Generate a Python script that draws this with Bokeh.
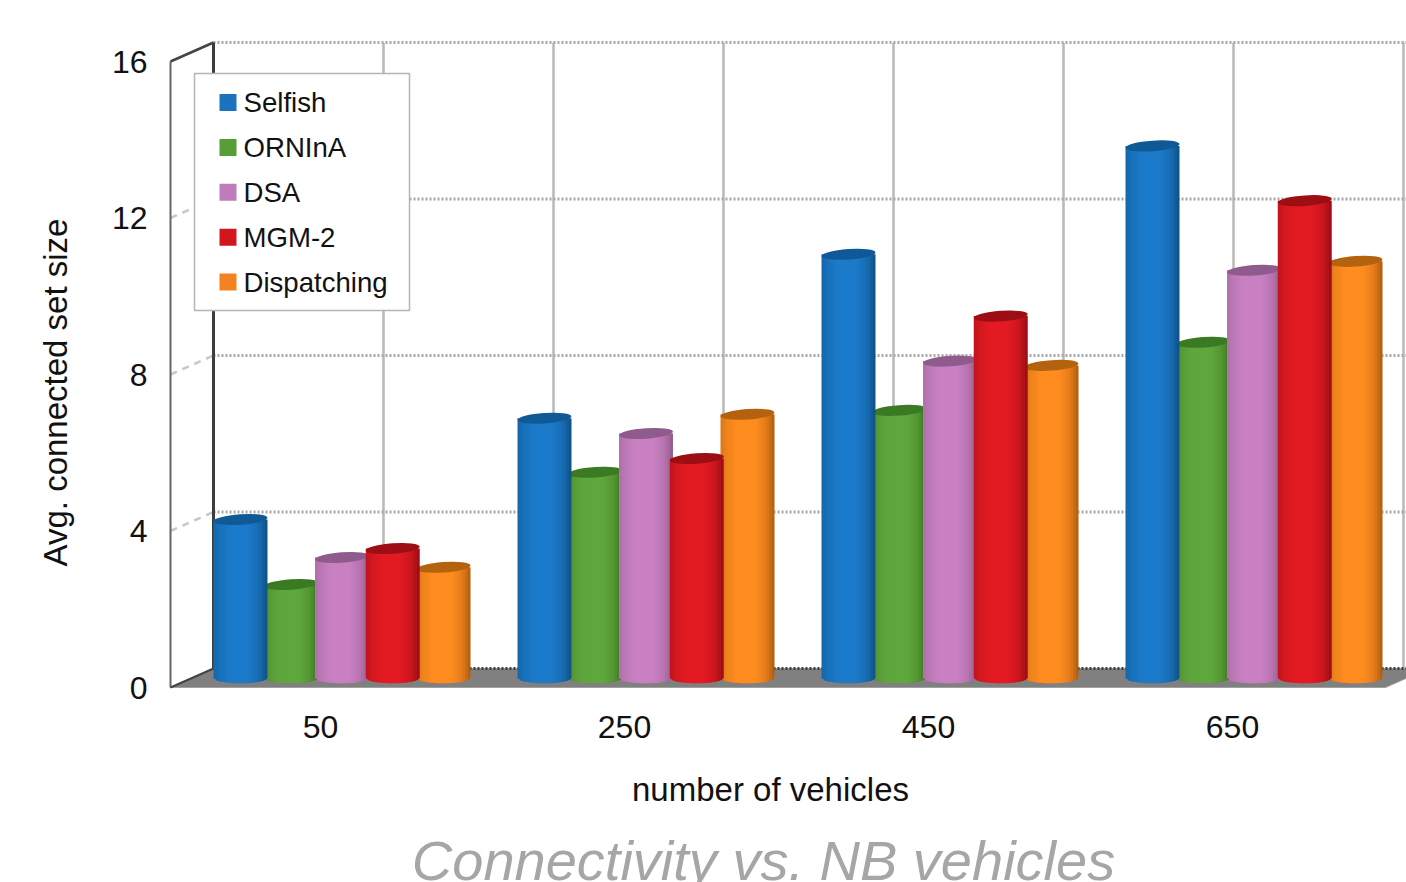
import math

import numpy as np
from bokeh.core.properties import value
from bokeh.embed import file_html
from bokeh.models import FixedTicker, Range1d
from bokeh.plotting import figure
from bokeh.resources import INLINE

# Average connected set size for each fleet size and dispatching scheme
vehicles = ["50", "250", "450", "650"]
selfish = [4.05, 6.64, 10.83, 13.60]
orninai = [2.39, 5.26, 6.84, 8.58]
dsa = [3.08, 6.25, 8.10, 10.42]
mgm2 = [3.31, 5.61, 9.25, 12.20]
dispatching = [2.83, 6.74, 7.99, 10.65]

series_names = ["Selfish", "ORNInA", "DSA", "MGM-2", "Dispatching"]
series_values = [selfish, orninai, dsa, mgm2, dispatching]
y_ticks = [0, 4, 8, 12, 16]

# Colours: (face, shaded edge, cap)
palette = [
    ("#1b7ac9", "#0f4f85", "#0f5a96"),
    ("#5fa63c", "#3a7322", "#3a7a22"),
    ("#c880c2", "#8f5a8b", "#8f5b8c"),
    ("#e21a22", "#970e13", "#9c0e14"),
    ("#ff8c1f", "#ad5c10", "#b5620f"),
]
legend_colors = ["#1c72bd", "#579d38", "#c07bbb", "#d2161e", "#f58220"]
TEXT = "#111111"
FONT = "Liberation Sans"

# Pixel scale of the drawing; the frame fills the whole page
WIDTH, HEIGHT = 1406, 882
BOX_LEFT, BOX_BOTTOM = 170, 687
PX_PER_GROUP = 304.0
PX_PER_UNIT = 39.125
GROUP0_PX = 320.0

DEPTH_X = 43 / PX_PER_GROUP
DEPTH_Y = 19 / PX_PER_UNIT
BAR_W = 54 / PX_PER_GROUP
BAR_PITCH = 50.75 / PX_PER_GROUP
CAP_H = 10.5 / PX_PER_UNIT
WALL_STEP = 170 / PX_PER_GROUP


def px_x(px):
    return (px - GROUP0_PX) / PX_PER_GROUP


def px_y(px):
    return (BOX_BOTTOM - px) / PX_PER_UNIT


X_FRONT = px_x(BOX_LEFT)
X_BACK = X_FRONT + DEPTH_X
X_FLOOR_END = X_FRONT + 1215 / PX_PER_GROUP

p = figure(
    width=WIDTH, height=HEIGHT, output_backend="svg", toolbar_location=None,
    x_range=Range1d(px_x(0), px_x(WIDTH)),
    y_range=Range1d(px_y(HEIGHT), px_y(0)),
    min_border=0, outline_line_color=None, background_fill_color="white",
)
p.xgrid.visible = False
p.ygrid.visible = False

# Axes carry only their tick labels and sit on the front edges of the box
p.yaxis.ticker = FixedTicker(ticks=y_ticks)
p.yaxis.fixed_location = X_FRONT
p.xaxis.ticker = FixedTicker(ticks=list(range(len(vehicles))))
p.xaxis.fixed_location = 0
p.xaxis.major_label_overrides = {i: v for i, v in enumerate(vehicles)}
for ax in (p.xaxis[0], p.yaxis[0]):
    ax.axis_line_color = None
    ax.major_tick_line_color = None
    ax.minor_tick_line_color = None
    ax.major_label_text_font = FONT
    ax.major_label_text_font_size = "32px"
    ax.major_label_text_color = TEXT
p.yaxis.major_label_standoff = 17
p.xaxis.major_label_standoff = 22

# Floor
x_right = X_FLOOR_END + DEPTH_X
p.patch([X_FRONT, X_BACK, x_right, X_FLOOR_END], [0, DEPTH_Y, DEPTH_Y, 0],
        fill_color="#808080", line_color="#a0a0a0", line_width=1)

# Back wall grid
wall_xs = [X_BACK + k * WALL_STEP for k in range(1, 8)]
top = 16 + DEPTH_Y
p.segment(wall_xs, [DEPTH_Y] * 7, wall_xs, [top] * 7, line_color="#b8b8b8", line_width=2.5)
grid_vals = [v + DEPTH_Y for v in y_ticks[1:]]
p.segment([X_BACK] * 4, grid_vals, [x_right] * 4, grid_vals,
          line_color="#a8a8a8", line_width=3, line_dash="2 2")
p.segment([X_BACK], [DEPTH_Y], [x_right], [DEPTH_Y], line_color="#3c3c3c", line_width=3, line_dash="2 2")

# Side wall
inner = y_ticks[1:-1]
p.segment([X_FRONT] * 3, inner, [X_BACK] * 3, [v + DEPTH_Y for v in inner],
          line_color="#c8c8c8", line_width=2.5, line_dash="7 6")
p.line([X_FRONT, X_FRONT], [0, 16], line_color="#666666", line_width=2)
p.line([X_BACK, X_BACK], [DEPTH_Y, top], line_color="#3c3c3c", line_width=3)
p.line([X_FRONT, X_BACK], [16, top], line_color="#444444", line_width=2.5)
p.line([X_FRONT, X_BACK], [0, DEPTH_Y], line_color="#444444", line_width=2)


def hex_rgb(c):
    return np.array([int(c[i:i + 2], 16) for i in (1, 3, 5)], dtype=float)


def mix(face, edge, t):
    rgb = hex_rgb(face) * (1 - t) + hex_rgb(edge) * t
    return "#%02x%02x%02x" % tuple(int(round(c)) for c in rgb)


def cylinder(center, val, colors):
    """Draw one upright cylinder as thin shaded strips closed by a tilted cap."""
    face, edge, cap = colors
    base = DEPTH_Y / 2
    n = 20
    edges = np.linspace(0, 1, n + 1)
    xs, ys, fills = [], [], []

    def low(u):
        return base - CAP_H / 2 * np.sqrt(max(0.0, 1 - (2 * u - 1) ** 2))

    for a, b in zip(edges[:-1], edges[1:]):
        b2 = min(b + 0.02, 1)
        left = center + (a - 0.5) * BAR_W
        right = center + (b2 - 0.5) * BAR_W
        xs.append([left, right, right, left])
        ys.append([low(a), low(b2), val + base, val + base])
        shade = np.interp((a + b) / 2, [0, 0.12, 0.3, 0.65, 0.85, 1], [0.45, 0.2, 0, 0, 0.35, 1])
        fills.append(mix(face, edge, shade))
    p.patches(xs, ys, fill_color=fills, line_color=None)
    p.ellipse([center], [val + base], width=BAR_W, height=CAP_H, angle=0.07,
              fill_color=cap, line_color=None)


# Neighbouring cylinders overlap, so paint them in a fixed order
paint_order = [4, 1, 2, 0, 3]
for g in range(len(vehicles)):
    group_center = g + DEPTH_X / 2
    for s in paint_order:
        cylinder(group_center + (s - 2) * BAR_PITCH, series_values[s][g], palette[s])

# Legend panel, laid out in pixels
p.quad(left=[px_x(194)], right=[px_x(409)], top=[px_y(73)], bottom=[px_y(310)],
       fill_color="white", line_color="#b5b5b5", line_width=1.5)
for i, (name, color) in enumerate(zip(series_names, legend_colors)):
    row = 102 + 44.9 * i
    p.quad(left=[px_x(219)], right=[px_x(236)], top=[px_y(row - 8.5)], bottom=[px_y(row + 8.5)],
           fill_color=color, line_color=None)
    p.text([px_x(243)], [px_y(row)], text=[name], text_font=value(FONT), text_font_size="27.6px",
           text_color=TEXT, text_align="left", text_baseline="middle")

# Axis titles and the caption
p.text([px_x(55)], [px_y(392)], text=["Avg. connected set size"], angle=math.pi / 2,
       text_font=value(FONT), text_font_size="33px", text_color=TEXT,
       text_align="center", text_baseline="middle")
p.text([px_x(770)], [px_y(789)], text=["number of vehicles"],
       text_font=value(FONT), text_font_size="33px", text_color=TEXT,
       text_align="center", text_baseline="middle")
p.text([px_x(763)], [px_y(860)], text=["Connectivity vs. NB vehicles"],
       text_font=value(FONT), text_font_style="italic", text_font_size="56px", text_color="#a6a6a6",
       text_align="center", text_baseline="alphabetic")

open("out.html", "w").write(file_html(p, INLINE))
